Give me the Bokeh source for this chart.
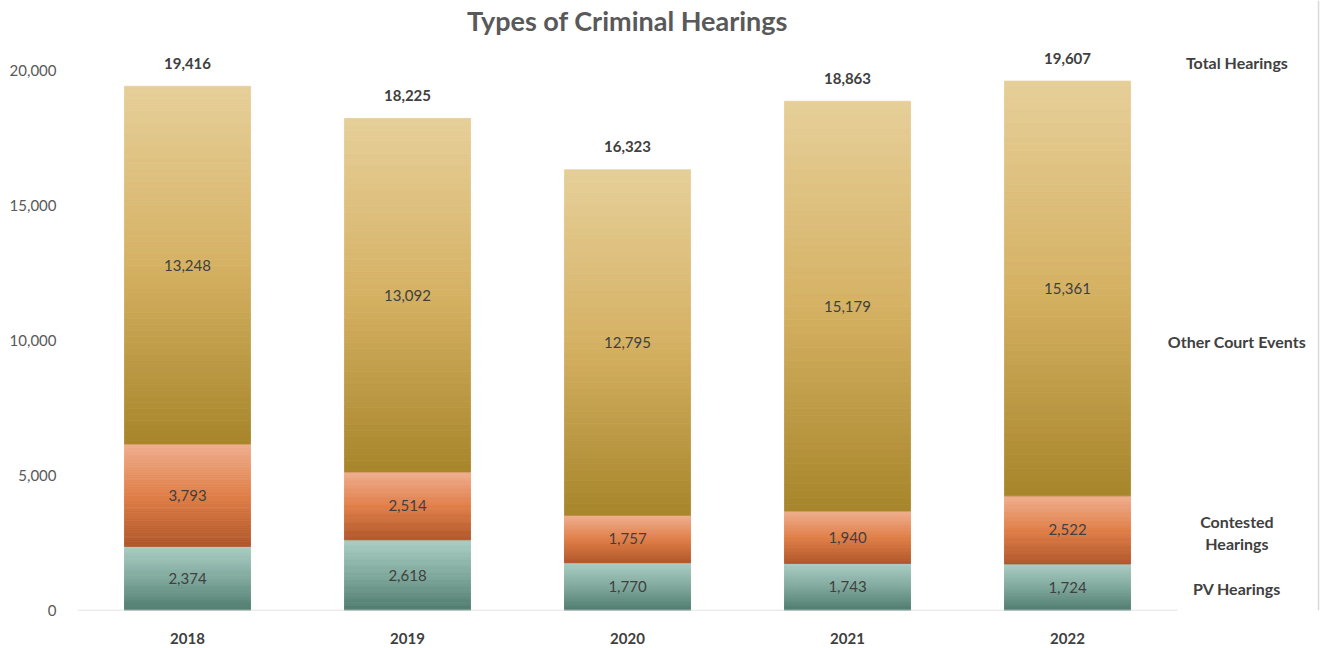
from bokeh.plotting import figure
from bokeh.models import Range1d, FixedTicker, Label, ColumnDataSource, NumeralTickFormatter, Span
from bokeh.core.properties import value
from bokeh.embed import file_html
from bokeh.resources import INLINE

# ---- data ----
years = ["2018", "2019", "2020", "2021", "2022"]
pv_hearings = [2374, 2618, 1770, 1743, 1724]
contested_hearings = [3793, 2514, 1757, 1940, 2522]
other_court_events = [13248, 13092, 12795, 15179, 15361]
total_hearings = [19416, 18225, 16323, 18863, 19607]
series_names = ["PV Hearings", "Contested\nHearings", "Other Court Events", "Total Hearings"]
y_ticks = [0, 5000, 10000, 15000, 20000]
title_text = "Types of Criminal Hearings"

# ---- style ----
FONT = "Lato"
DARK = "#404040"
GREY = "#595959"
# gradient stops per series: (bottom, middle, top)
grads = [
    ("#4f7a6e", "#7fa89c", "#aacdc4"),
    ("#b0562a", "#e07f48", "#efae8e"),
    ("#a7852a", "#d5b163", "#e6cf99"),
]
N_SLICES = 60

def hex2rgb(h):
    h = h.lstrip("#")
    return tuple(int(h[i:i + 2], 16) for i in (0, 2, 4))

def interp(stops, t):
    a, m, b = [hex2rgb(s) for s in stops]
    if t < 0.5:
        u = t / 0.5
        c = [a[i] + (m[i] - a[i]) * u for i in range(3)]
    else:
        u = (t - 0.5) / 0.5
        c = [m[i] + (b[i] - m[i]) * u for i in range(3)]
    return "#%02x%02x%02x" % tuple(int(round(v)) for v in c)

xs = list(range(1, len(years) + 1))

p = figure(width=1325, height=648, x_range=Range1d(0.5, 6.1727), y_range=Range1d(0, 22593),
           output_backend="svg", toolbar_location=None,
           min_border_left=77, min_border_right=0, min_border_top=0, min_border_bottom=38)
p.outline_line_color = None
p.xgrid.grid_line_color = None
p.ygrid.grid_line_color = None
p.background_fill_color = "white"
p.border_fill_color = "white"

series = [pv_hearings, contested_hearings, other_court_events]
bases = [0] * len(years)
lab_x, lab_y, lab_t = [], [], []
for s_idx, vals in enumerate(series):
    bx, bb, bt, bc = [], [], [], []
    for i, v in enumerate(vals):
        b0 = bases[i]
        for k in range(N_SLICES):
            bx.append(xs[i])
            bb.append(b0 + v * k / N_SLICES)
            bt.append(b0 + v * (k + 1) / N_SLICES)
            bc.append(interp(grads[s_idx], (k + 0.5) / N_SLICES))
        lab_x.append(xs[i])
        lab_y.append(b0 + v / 2)
        lab_t.append("{:,}".format(v))
        bases[i] = b0 + v
    src = ColumnDataSource(dict(x=bx, bottom=bb, top=bt, color=bc))
    p.vbar(x="x", bottom="bottom", top="top", width=0.573, source=src,
           fill_color="color", line_color="color", line_width=0.8)

# baseline (category axis line) spanning the category band only
p.segment(x0=[0.5], y0=[0], x1=[5.5], y1=[0], line_color="#d9d9d9", line_width=1.5)

lab_src = ColumnDataSource(dict(x=lab_x, y=lab_y, text=lab_t))
p.text(x="x", y="y", text="text", source=lab_src, text_align="center", text_baseline="middle",
       text_font=value(FONT), text_font_size="15px", text_color=DARK)

tot_src = ColumnDataSource(dict(x=xs, y=total_hearings, text=["{:,}".format(t) for t in total_hearings]))
p.text(x="x", y="y", text="text", source=tot_src, text_align="center", text_baseline="middle",
       y_offset=-23, text_font=value(FONT), text_font_size="15px", text_font_style="bold", text_color=DARK)

# right-side series labels
right_x = 5.77
for name, yv in zip(series_names, [815, 2889, 9963, 20296]):
    p.add_layout(Label(x=right_x, y=yv, text=name, text_align="center", text_baseline="middle",
                       text_font=FONT, text_font_size="16px", text_font_style="bold",
                       text_color=DARK))

# right border line of the chart area
p.add_layout(Span(location=6.141, dimension="height", line_color="#d9d9d9", line_width=1.5))

# title
p.add_layout(Label(x=3, y=21852, text=title_text, text_align="center", text_baseline="middle",
                   text_font=FONT, text_font_size="27px", text_font_style="bold", text_color=GREY))

# axes
xa = p.xaxis[0]
xa.ticker = FixedTicker(ticks=xs)
xa.major_label_overrides = {x: y for x, y in zip(xs, years)}
xa.axis_line_color = None
xa.major_tick_line_color = None
xa.minor_tick_line_color = None
xa.major_label_text_font = FONT
xa.major_label_text_font_size = "15px"
xa.major_label_text_font_style = "bold"
xa.major_label_text_color = DARK
xa.major_label_standoff = 16

ya = p.yaxis[0]
ya.ticker = FixedTicker(ticks=y_ticks)
ya.formatter = NumeralTickFormatter(format="0,0")
ya.axis_line_color = None
ya.major_tick_line_color = None
ya.minor_tick_line_color = None
ya.major_label_text_font = FONT
ya.major_label_text_font_size = "15px"
ya.major_label_text_color = GREY
ya.major_label_standoff = 15

open("out.html", "w").write(file_html(p, INLINE))
